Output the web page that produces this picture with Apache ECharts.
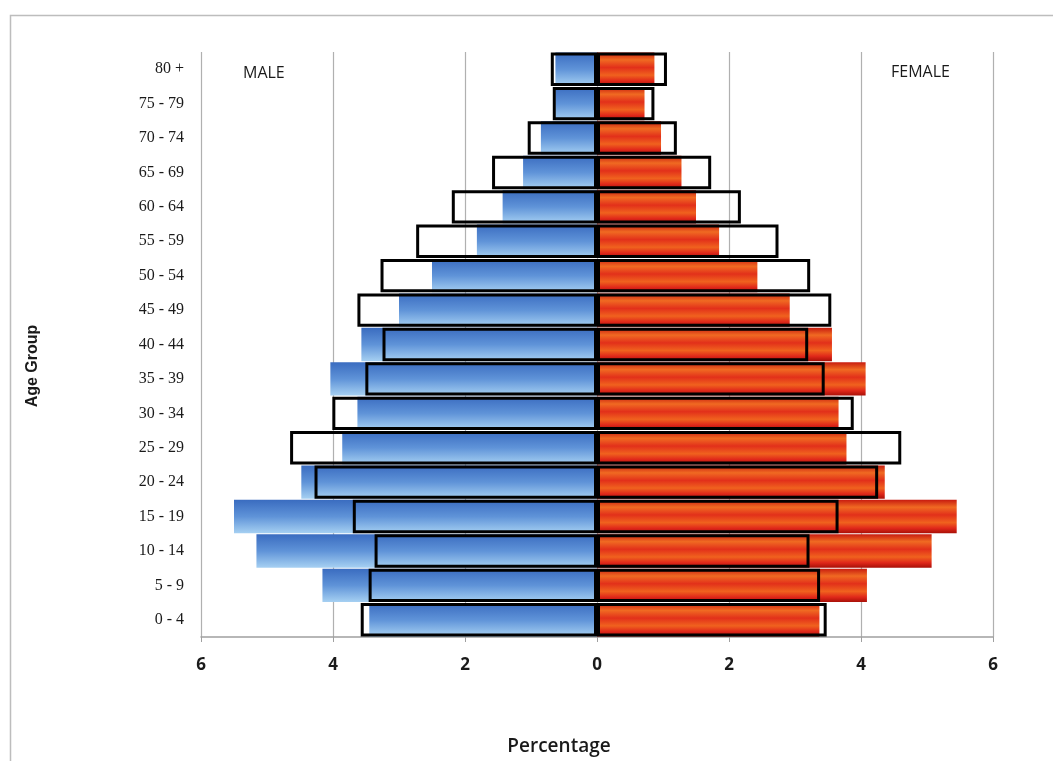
<!DOCTYPE html>
<html>
<head>
<meta charset="utf-8">
<script src="https://cdn.jsdelivr.net/npm/echarts@6/dist/echarts.min.js"></script>
<style>
html,body{margin:0;padding:0;background:#fff;}
#chart{width:1053px;height:761px;}
</style>
</head>
<body>
<div id="chart"></div>
<script>
// Age groups, top to bottom
const ageGroups = ['80 +','75 - 79','70 - 74','65 - 69','60 - 64','55 - 59','50 - 54','45 - 49','40 - 44','35 - 39','30 - 34','25 - 29','20 - 24','15 - 19','10 - 14','5 - 9','0 - 4'];
// Filled bars (percentage)
const maleFilled   = [0.63,0.63,0.85,1.12,1.43,1.82,2.50,3.00,3.57,4.04,3.63,3.86,4.48,5.50,5.16,4.16,3.45];
const femaleFilled = [0.87,0.72,0.97,1.28,1.50,1.85,2.43,2.92,3.56,4.07,3.66,3.78,4.36,5.45,5.07,4.09,3.37];
// Outlined comparison bars (percentage)
const maleOutline   = [0.70,0.67,1.05,1.59,2.20,2.74,3.28,3.63,3.25,3.51,4.01,4.65,4.28,3.70,3.37,3.46,3.58];
const femaleOutline = [1.06,0.87,1.21,1.73,2.18,2.75,3.23,3.55,3.20,3.45,3.89,4.61,4.26,3.66,3.22,3.38,3.48];
const xTicks = [-6,-4,-2,0,2,4,6];

const chart = echarts.init(document.getElementById('chart'));
const blueGrad = new echarts.graphic.LinearGradient(0,0,0,1,[
  {offset:0,color:'#3a6cc0'},{offset:0.5,color:'#5f93d8'},{offset:1,color:'#a6d0f2'}]);
const redGrad = new echarts.graphic.LinearGradient(0,0,0,1,[
  {offset:0,color:'#c81c10'},{offset:0.22,color:'#f06a22'},{offset:0.45,color:'#e2301a'},
  {offset:0.68,color:'#f0621e'},{offset:0.85,color:'#e0281a'},{offset:1,color:'#a81008'}]);

chart.setOption({
  backgroundColor:'#ffffff',
  animation:false,
  grid:{left:201,right:60,top:52,bottom:124},
  xAxis:{
    type:'value', min:xTicks[0], max:xTicks[xTicks.length-1], interval:2,
    axisLine:{show:true,lineStyle:{color:'#a0a0a0',width:1.5}},
    axisTick:{show:true,length:5,lineStyle:{color:'#a0a0a0'}},
    splitLine:{show:true,lineStyle:{color:'#b0b0b0',width:1.2}},
    axisLabel:{margin:20,fontFamily:'Open Sans',fontWeight:'bold',fontSize:17,color:'#1a1a1a',
      formatter:v=>String(Math.abs(v))}
  },
  yAxis:{
    type:'category', data:ageGroups, inverse:true,
    axisLine:{show:false}, axisTick:{show:false},
    axisLabel:{margin:17,fontFamily:'Liberation Serif',fontSize:16,color:'#1a1a1a'}
  },
  series:[
    {name:'Male',type:'bar',stack:'filled',data:maleFilled.map(v=>-v),
     barCategoryGap:'3%',barGap:'-100%',itemStyle:{color:blueGrad}},
    {name:'Female',type:'bar',stack:'filled',data:femaleFilled,
     barCategoryGap:'3%',barGap:'-100%',itemStyle:{color:redGrad}},
    {name:'Male outline',type:'bar',stack:'outline',data:maleOutline.map(v=>-v),
     barCategoryGap:'3%',barGap:'-100%',z:3,
     itemStyle:{color:'rgba(0,0,0,0)',borderColor:'#000',borderWidth:3}},
    {name:'Female outline',type:'bar',stack:'outline',data:femaleOutline,
     barCategoryGap:'3%',barGap:'-100%',z:3,
     itemStyle:{color:'rgba(0,0,0,0)',borderColor:'#000',borderWidth:3}}
  ],
  graphic:[
    {type:'rect',left:8,top:13,shape:{width:1100,height:800},silent:true,z:-10,
     style:{fill:'none',stroke:'#bdbdbd',lineWidth:1.5}},
    {type:'text',left:243,top:65,style:{text:'MALE',font:'16px "Open Sans"',fill:'#1a1a1a'}},
    {type:'text',left:891,top:64,style:{text:'FEMALE',font:'16px "Open Sans"',fill:'#1a1a1a'}},
    {type:'text',x:559,y:747,style:{text:'Percentage',font:'600 19px "Open Sans"',fill:'#1a1a1a',
      textAlign:'center',textVerticalAlign:'middle'}},
    {type:'text',x:33,y:366,rotation:Math.PI/2,style:{text:'Age Group',font:'bold 16px "Liberation Sans"',fill:'#1a1a1a',
      textAlign:'center',textVerticalAlign:'middle'}}
  ]
});
</script>
</body>
</html>
